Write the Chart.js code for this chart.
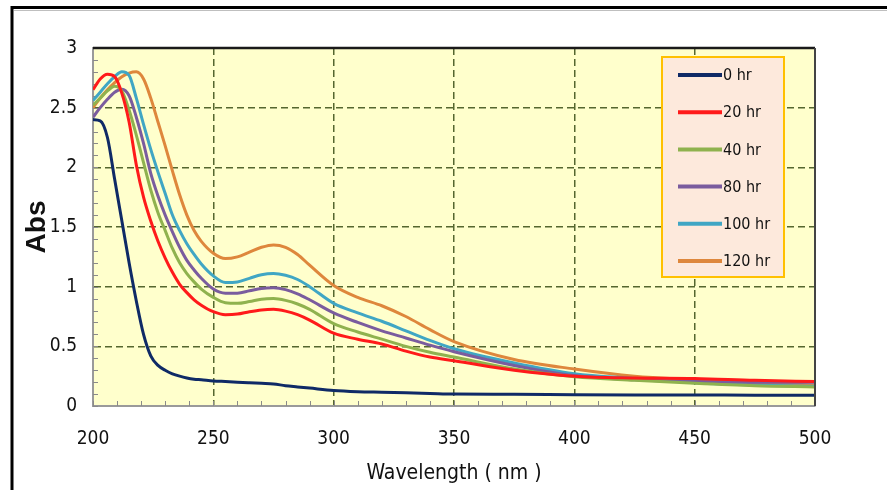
<!DOCTYPE html>
<html>
<head>
<meta charset="utf-8">
<script src="https://cdn.jsdelivr.net/npm/chart.js@4.4.1/dist/chart.umd.min.js"></script>
<style>
  html, body { margin: 0; padding: 0; background: #ffffff; }
  #wrap { width: 887px; height: 490px; position: relative; }
</style>
</head>
<body>
<div id="wrap"><canvas id="c" width="887" height="490"></canvas></div>
<script>
// ---- data ----
const wavelengths = [200,203,206,209,212,215,218,221,224,227,230,233,236,239,242,245,250,255,260,265,270,275,280,285,290,300,310,320,330,340,350,375,400,425,450,475,500];
const seriesLabels = ['0 hr','20 hr','40 hr','80 hr','100 hr','120 hr'];
const abs0hr   = [2.40,2.39,2.25,1.90,1.55,1.20,0.88,0.60,0.42,0.34,0.30,0.27,0.25,0.235,0.225,0.22,0.21,0.205,0.20,0.195,0.19,0.185,0.17,0.16,0.15,0.13,0.12,0.115,0.11,0.105,0.10,0.098,0.095,0.093,0.092,0.091,0.09];
const abs20hr  = [2.65,2.74,2.78,2.76,2.62,2.38,2.02,1.75,1.55,1.38,1.24,1.12,1.02,0.95,0.89,0.845,0.79,0.765,0.77,0.79,0.805,0.81,0.795,0.765,0.72,0.61,0.56,0.52,0.46,0.41,0.38,0.30,0.25,0.235,0.23,0.215,0.205];
const abs40hr  = [2.52,2.58,2.64,2.68,2.64,2.48,2.27,2.04,1.81,1.62,1.47,1.32,1.20,1.11,1.04,0.98,0.91,0.865,0.86,0.875,0.895,0.90,0.885,0.855,0.81,0.69,0.62,0.56,0.50,0.45,0.41,0.31,0.245,0.215,0.19,0.17,0.16];
const abs80hr  = [2.42,2.50,2.57,2.63,2.655,2.60,2.42,2.20,1.95,1.76,1.60,1.46,1.33,1.22,1.14,1.07,0.98,0.945,0.945,0.965,0.985,0.99,0.975,0.94,0.89,0.78,0.70,0.63,0.57,0.51,0.455,0.34,0.255,0.22,0.205,0.20,0.20];
const abs100hr = [2.56,2.63,2.70,2.76,2.80,2.77,2.58,2.36,2.15,1.96,1.78,1.60,1.47,1.36,1.27,1.19,1.09,1.035,1.04,1.07,1.10,1.11,1.095,1.06,1.00,0.86,0.78,0.71,0.63,0.55,0.48,0.36,0.27,0.23,0.195,0.175,0.165];
const abs120hr = [2.50,2.58,2.65,2.71,2.76,2.79,2.80,2.74,2.58,2.38,2.18,1.97,1.77,1.60,1.47,1.38,1.28,1.235,1.25,1.29,1.33,1.35,1.33,1.27,1.18,1.01,0.91,0.84,0.75,0.64,0.54,0.39,0.31,0.25,0.22,0.195,0.175];
const xTicks = [200,250,300,350,400,450,500];
const yTicks = [0,0.5,1,1.5,2,2.5,3];

const seriesValues = [abs0hr, abs20hr, abs40hr, abs80hr, abs100hr, abs120hr];
const seriesColors = ['#0f2a66','#ff1a1a','#8fb24e','#7a5c9e','#40a6c4','#de873c'];

const NARROW = '"DejaVu Sans Condensed", "Liberation Sans", sans-serif';

const datasets = seriesLabels.map((lab, i) => ({
  label: lab,
  data: wavelengths.map((w, k) => ({x: w, y: seriesValues[i][k]})),
  borderColor: seriesColors[i],
  backgroundColor: seriesColors[i],
  borderWidth: 3,
  pointRadius: 0,
  fill: false,
  cubicInterpolationMode: 'monotone'
}));

const framePlugin = {
  id: 'frame',
  beforeDraw(chart) {
    const {ctx, chartArea: a} = chart;
    ctx.save();
    ctx.fillStyle = '#ffffcc';
    ctx.fillRect(a.left, a.top, a.right - a.left, a.bottom - a.top);
    ctx.restore();
  },
  beforeDatasetsDraw(chart) {
    const {ctx, chartArea: a, scales} = chart;
    const xs = scales.x, ys = scales.y;
    ctx.save();
    ctx.strokeStyle = '#8a8a8a';
    ctx.lineWidth = 1;
    for (let v = 200; v <= 500; v += 10) {
      const px = Math.round(xs.getPixelForValue(v)) + 0.5;
      ctx.beginPath(); ctx.moveTo(px, a.bottom); ctx.lineTo(px, a.bottom - 5); ctx.stroke();
    }
    for (let k = 0; k <= 30; k++) {
      const py = Math.round(ys.getPixelForValue(k / 10)) + 0.5;
      ctx.beginPath(); ctx.moveTo(a.left, py); ctx.lineTo(a.left + 5, py); ctx.stroke();
    }
    ctx.restore();
  },
  afterDraw(chart) {
    const {ctx, chartArea: a} = chart;
    ctx.save();
    // plot top & right borders
    ctx.strokeStyle = '#1a1a1a';
    ctx.lineWidth = 2.5;
    ctx.beginPath(); ctx.moveTo(a.left, a.top); ctx.lineTo(a.right, a.top); ctx.stroke();
    ctx.strokeStyle = '#444444';
    ctx.lineWidth = 2;
    ctx.beginPath(); ctx.moveTo(a.right, a.top); ctx.lineTo(a.right, a.bottom); ctx.stroke();
    // outer frame
    ctx.strokeStyle = '#000000';
    ctx.lineWidth = 3;
    ctx.beginPath(); ctx.moveTo(12, 490); ctx.lineTo(12, 7.5); ctx.lineTo(887, 7.5); ctx.stroke();
    ctx.strokeStyle = 'rgba(0,0,0,0.25)';
    ctx.lineWidth = 1;
    ctx.beginPath(); ctx.moveTo(14, 10.5); ctx.lineTo(887, 10.5); ctx.stroke();

    // legend
    const bx = 662, by = 57, bw = 122, bh = 220;
    ctx.fillStyle = '#fde9dc';
    ctx.fillRect(bx, by, bw, bh);
    ctx.strokeStyle = '#ffc000';
    ctx.lineWidth = 2;
    ctx.strokeRect(bx, by, bw, bh);
    ctx.font = '16px ' + NARROW;
    ctx.textBaseline = 'middle';
    ctx.textAlign = 'left';
    chart.data.datasets.forEach((ds, i) => {
      const yy = 75 + i * 37.2;
      ctx.strokeStyle = ds.borderColor;
      ctx.lineWidth = 4;
      ctx.beginPath(); ctx.moveTo(678, yy); ctx.lineTo(722, yy); ctx.stroke();
      ctx.fillStyle = '#111111';
      ctx.fillText(ds.label, 723, yy + 1);
    });
    ctx.restore();
  }
};

const gridColor = (edgeVals) => (c) => (c.tick && edgeVals.includes(c.tick.value)) ? 'rgba(0,0,0,0)' : '#55672f';

new Chart(document.getElementById('c'), {
  type: 'line',
  data: { datasets },
  plugins: [framePlugin],
  options: {
    responsive: false,
    animation: false,
    events: [],
    layout: { padding: { top: 48, right: 72, bottom: 0, left: 0 } },
    plugins: { legend: { display: false }, tooltip: { enabled: false } },
    scales: {
      x: {
        type: 'linear',
        min: 200, max: 500,
        afterBuildTicks(scale) { scale.ticks = xTicks.map(v => ({value: v})); },
        afterFit(scale) { scale.height = 84; },
        ticks: { font: { size: 19, family: NARROW }, color: '#111111', padding: 22, maxRotation: 0 },
        grid: { color: gridColor([200, 500]), lineWidth: 1.5, drawTicks: false },
        border: { display: true, color: '#9a9a9a', width: 2, dash: [7, 4] },
        title: { display: true, text: 'Wavelength ( nm )', font: { size: 21, family: NARROW }, color: '#111111', padding: { top: 0, bottom: 4 } }
      },
      y: {
        type: 'linear',
        min: 0, max: 3,
        afterBuildTicks(scale) { scale.ticks = yTicks.map(v => ({value: v})); },
        afterFit(scale) { scale.width = 93; },
        ticks: { font: { size: 19, family: NARROW }, color: '#111111', padding: 16, callback: v => String(v) },
        grid: { color: gridColor([0, 3]), lineWidth: 1.5, drawTicks: false },
        border: { display: true, color: '#9a9a9a', width: 2, dash: [7, 4] },
        title: { display: true, text: 'Abs', font: { size: 28, weight: 'bold', family: '"Liberation Sans", Arial, sans-serif' }, color: '#111111', padding: { top: 20, bottom: 0 } }
      }
    }
  }
});
</script>
</body>
</html>
